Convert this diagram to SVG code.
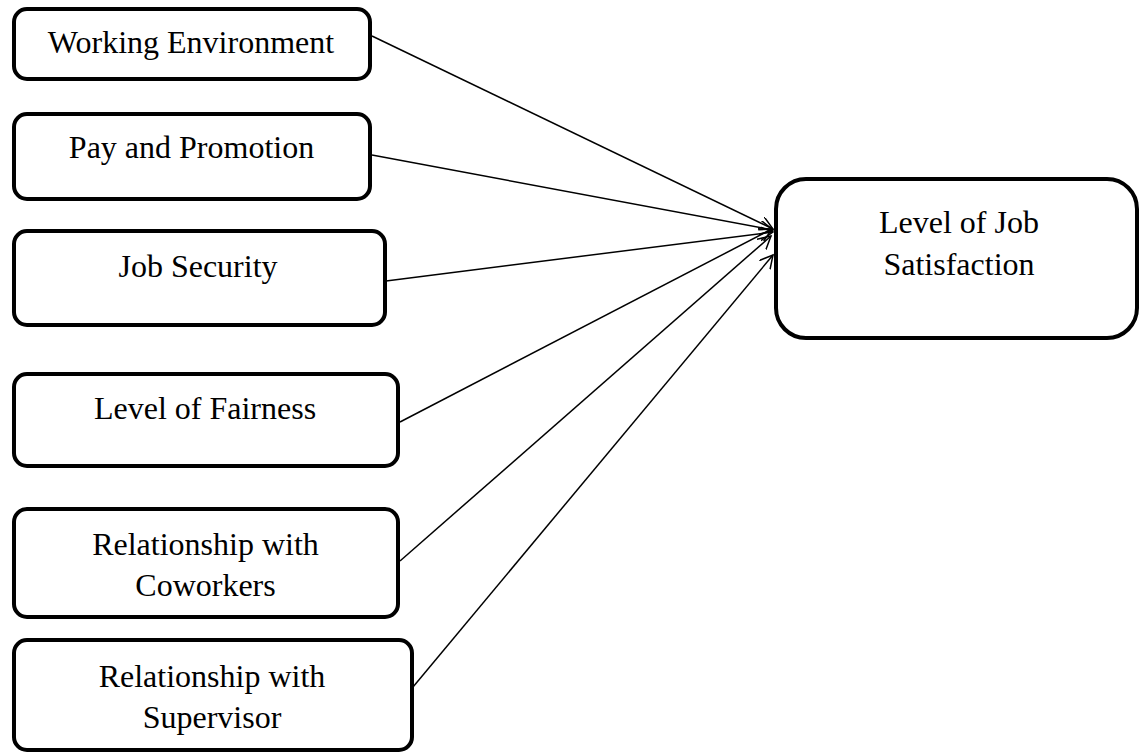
<svg xmlns="http://www.w3.org/2000/svg" width="1140" height="755" viewBox="0 0 1140 755">
<style>
.box{fill:#fff;stroke:#000;stroke-width:4}
.lbl{font-family:"Liberation Serif","Times New Roman",serif;font-size:32px;fill:#000;text-anchor:middle}
.conn{stroke:#000;stroke-width:1.5;fill:none;marker-end:url(#arr)}
</style>
<defs>
<marker id="arr" markerUnits="userSpaceOnUse" markerWidth="16" markerHeight="16" refX="13" refY="7" orient="auto">
<path d="M0,0 L13,7 L0,14" fill="none" stroke="#000" stroke-width="1.5"/>
</marker>
</defs>
<rect width="1140" height="755" fill="#fff"/>
<g id="connectors">
<line class="conn" x1="372" y1="36" x2="773" y2="229"/>
<line class="conn" x1="372" y1="155" x2="773" y2="230"/>
<line class="conn" x1="386" y1="281" x2="773" y2="232"/>
<line class="conn" x1="400" y1="422" x2="772" y2="229"/>
<line class="conn" x1="400" y1="561" x2="771" y2="236"/>
<line class="conn" x1="413" y1="687" x2="773" y2="255"/>
</g>
<g id="n1"><rect class="box" x="14" y="9" width="356" height="70" rx="13"/><text class="lbl" x="191" y="53">Working Environment</text></g>
<g id="n2"><rect class="box" x="14" y="114" width="356" height="85" rx="13"/><text class="lbl" x="191.5" y="158">Pay and Promotion</text></g>
<g id="n3"><rect class="box" x="14" y="231" width="371" height="94" rx="13"/><text class="lbl" x="198" y="277">Job Security</text></g>
<g id="n4"><rect class="box" x="14" y="374" width="384" height="92" rx="13"/><text class="lbl" x="205" y="419">Level of Fairness</text></g>
<g id="n5"><rect class="box" x="14" y="509" width="384" height="108" rx="13"/><text class="lbl" x="205.5" y="555">Relationship with</text><text class="lbl" x="205.5" y="596">Coworkers</text></g>
<g id="n6"><rect class="box" x="14" y="640" width="398" height="110" rx="13"/><text class="lbl" x="212" y="687">Relationship with</text><text class="lbl" x="212" y="728">Supervisor</text></g>
<g id="target"><rect class="box" x="776" y="179" width="361" height="159" rx="30"/><text class="lbl" x="959" y="233">Level of Job</text><text class="lbl" x="959" y="275">Satisfaction</text></g>
</svg>
